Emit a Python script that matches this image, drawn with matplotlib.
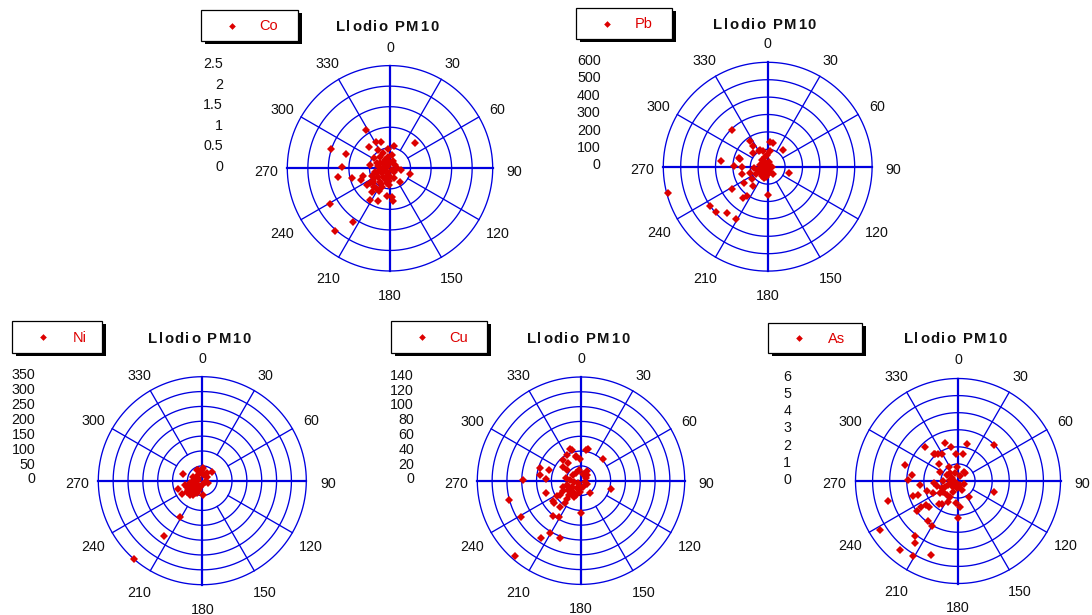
import numpy as np
import matplotlib
matplotlib.use("Agg")
import matplotlib.pyplot as plt
from matplotlib.transforms import offset_copy
from matplotlib.patches import Rectangle
from matplotlib.lines import Line2D
from matplotlib.font_manager import FontProperties, findfont
from matplotlib.ft2font import FT2Font

W, H, DPI = 1092, 615, 100
FONT = "Liberation Sans"
plt.rcParams["font.family"] = [FONT, "DejaVu Sans"]

BLUE = "#0000E0"
RED = "#DD0000"
INK = "#111111"

SITE = "Llodio PM10"
ANGLE_TICKS = list(range(0, 360, 30))

# ---- wind direction (deg) and concentration for each element ----
co_dir = [288, 288, 272, 261, 256, 239, 215, 221, 328, 316, 333, 342, 327, 353, 10, 45,
          106, 143, 174, 187, 177, 200, 212, 248, 253, 279, 302, 233, 222, 218, 214, 204,
          234, 260, 270, 225, 135, 239, 249, 329, 352, 7, 319, 336, 291, 257, 234, 219,
          194, 130, 90, 193, 183, 217, 246, 235, 304, 0, 295, 200, 240, 210, 180, 60,
          20, 315, 280, 250, 160, 100, 230, 265, 205, 185, 300, 345]
co_val = [1.50, 1.13, 1.18, 1.29, 0.95, 1.69, 1.59, 2.03, 1.11, 0.73, 0.73, 0.67, 0.53, 0.47, 0.54, 0.86,
          0.51, 0.41, 0.80, 0.68, 0.70, 0.84, 0.91, 0.75, 0.68, 0.50, 0.46, 0.61, 0.60, 0.72, 0.59, 0.49,
          0.70, 0.25, 0.16, 0.12, 0.06, 0.24, 0.35, 0.24, 0.29, 0.33, 0.37, 0.40, 0.35, 0.37, 0.35, 0.26,
          0.17, 0.13, 0.16, 0.37, 0.41, 0.41, 0.49, 0.52, 0.15, 0.12, 0.08, 0.30, 0.45, 0.45, 0.20, 0.15,
          0.20, 0.20, 0.30, 0.15, 0.25, 0.28, 0.55, 0.20, 0.62, 0.30, 0.28, 0.18]

pb_dir = [255, 236, 229, 221, 211, 238, 219, 216, 236, 218, 233, 255, 249, 277, 271, 270,
          287, 316, 325, 324, 313, 332, 343, 8, 12, 43, 107, 147, 180, 266, 345, 355,
          318, 282, 250, 222, 207, 187, 155, 90, 18, 238, 308, 237, 169, 194, 200, 260,
          300, 330, 10, 120, 230, 215, 280, 200, 240, 190, 336, 5, 286, 210, 225, 245]
pb_val = [595, 403, 396, 355, 350, 244, 229, 205, 163, 139, 115, 151, 109, 272, 192, 150,
          171, 293, 179, 147, 113, 104, 96, 91, 137, 131, 130, 53, 163, 77, 59, 67,
          52, 45, 57, 52, 54, 48, 32, 23, 30, 18, 31, 53, 20, 40, 30, 35,
          25, 40, 15, 15, 30, 40, 20, 70, 80, 60, 104, 142, 164, 65, 45, 35]

ni_dir = [221, 215, 212, 289, 46, 179, 252, 238, 114, 332, 5, 345, 294, 258, 249, 229,
          210, 216, 201, 110, 47, 279, 236, 236, 256, 355, 325, 31, 265, 235, 214, 200,
          225, 240, 190, 270, 300, 20, 0, 340, 230, 250, 220, 205]
ni_val = [349, 227, 143, 70, 44, 48, 85, 82, 22, 41, 42, 31, 33, 42, 56, 48,
          49, 32, 22, 10, 20, 14, 36, 57, 60, 25, 23, 29, 36, 64, 58, 35,
          25, 20, 15, 25, 15, 20, 35, 38, 40, 30, 62, 45]

cu_dir = [221, 255, 239, 271, 215, 211, 200, 218, 211, 251, 287, 278, 289, 272, 343, 331,
          319, 308, 324, 307, 348, 357, 10, 13, 45, 106, 143, 180, 204, 219, 215, 219,
          234, 230, 237, 236, 329, 18, 306, 273, 253, 237, 209, 185, 159, 104, 234, 251,
          215, 45, 225, 200, 260, 240, 220, 190, 280, 350, 30, 60, 120, 230, 341, 349]
cu_val = [135, 100, 94, 78, 95, 82, 82, 61, 57, 50, 58, 56, 45, 47, 43, 40,
          37, 30, 29, 24, 33, 30, 42, 44, 42, 42, 20, 43, 24, 31, 37, 45,
          46, 47, 39, 34, 12, 10, 13, 15, 20, 15, 12, 15, 9, 6, 21, 25,
          18, 11, 5, 20, 10, 28, 25, 8, 20, 15, 15, 8, 10, 15, 45, 34]

as_dir = [238, 254, 220, 211, 200, 215, 218, 217, 210, 234, 235, 233, 228, 251, 251, 252,
          264, 245, 219, 215, 205, 186, 176, 180, 145, 158, 107, 45, 13, 11, 355, 341,
          348, 316, 318, 324, 330, 287, 277, 271, 312, 296, 329, 355, 35, 298, 314, 266,
          257, 246, 246, 248, 245, 219, 234, 219, 236, 190, 153, 204, 207, 270, 280, 230,
          260, 300, 340, 20, 120, 200, 39, 319]
as_val = [5.37, 4.28, 5.24, 5.12, 4.58, 4.41, 4.08, 2.92, 3.05, 2.96, 2.66, 2.34, 2.25, 2.78, 2.45, 1.93,
          2.24, 1.60, 1.76, 1.67, 1.34, 1.32, 1.51, 2.19, 1.12, 0.57, 2.23, 3.00, 2.23, 1.59, 1.59, 2.34,
          2.02, 2.76, 2.14, 1.96, 1.82, 3.26, 2.74, 2.95, 1.47, 1.17, 0.98, 0.84, 0.62, 0.75, 0.65, 1.41,
          1.28, 1.05, 0.83, 0.61, 0.41, 0.43, 1.06, 1.06, 1.28, 0.44, 0.26, 0.68, 1.03, 0.90, 0.50, 0.30,
          0.20, 0.40, 0.50, 0.30, 0.40, 0.20, 0.63, 2.08]

# radial scales
co_ticks = [0, 0.5, 1, 1.5, 2, 2.5]
co_tick_labels = ["0", "0.5", "1", "1.5", "2", "2.5"]
pb_ticks = [0, 100, 200, 300, 400, 500, 600]
pb_tick_labels = [str(v) for v in pb_ticks]
ni_ticks = [0, 50, 100, 150, 200, 250, 300, 350]
ni_tick_labels = [str(v) for v in ni_ticks]
cu_ticks = [0, 20, 40, 60, 80, 100, 120, 140]
cu_tick_labels = [str(v) for v in cu_ticks]
as_ticks = [0, 1, 2, 3, 4, 5, 6]
as_tick_labels = [str(v) for v in as_ticks]

fig = plt.figure(figsize=(W / DPI, H / DPI), dpi=DPI)
fig.patch.set_facecolor("white")


def fx(x):
    return x / W


def fy(y):
    return 1 - y / H


def tracked_text(ax, s, dx, dy, size, track_px):
    """Bold text with extra letter spacing, centred at (dx, dy) px from the pole."""
    prop = FontProperties(family=FONT, weight="bold", size=size)
    font = FT2Font(findfont(prop))
    font.set_size(size, DPI)
    adv = [font.load_char(ord(c)).linearHoriAdvance / 65536 for c in s]
    total = sum(adv) + track_px * (len(s) - 1)
    x = dx - total / 2
    for c, a in zip(s, adv):
        if c != " ":
            tr = offset_copy(ax.transData, x=x, y=dy, units="dots")
            ax.text(0, 0, c, transform=tr, ha="left", va="baseline",
                    fontproperties=prop, color=INK, clip_on=False)
        x += a + track_px


def legend_box(name, left, top, w, h):
    fig.add_artist(Rectangle((fx(left + 4), fy(top + h + 3)), w / W, h / H,
                             transform=fig.transFigure, facecolor="black",
                             edgecolor="none", zorder=5))
    fig.add_artist(Rectangle((fx(left), fy(top + h)), w / W, h / H,
                             transform=fig.transFigure, facecolor="white",
                             edgecolor="black", linewidth=0.9, zorder=6))
    fig.add_artist(Line2D([fx(left + 31)], [fy(top + h / 2)], marker="D",
                          markersize=3.4, markeredgewidth=0, color=RED,
                          linestyle="none", transform=fig.transFigure, zorder=7))
    fig.text(fx(left + 68), fy(top + h / 2 + 5), name, color=RED, fontsize=10.5,
             ha="center", va="baseline", zorder=7)


def panel(name, dirs, vals, ticks, tick_labels, cx, cy, R, hub, box):
    ax = fig.add_axes([fx(cx - R), fy(cy + R), 2 * R / W, 2 * R / H],
                      projection="polar")
    ax.set_theta_zero_location("N")
    ax.set_theta_direction(-1)
    rmax = ticks[-1]
    ax.set_ylim(0, rmax)
    ax.set_axis_off()

    th = np.linspace(0, 2 * np.pi, 721)
    for t in ticks[1:]:
        ax.plot(th, np.full_like(th, t), color=BLUE, lw=0.95, clip_on=False, zorder=1)
    for a in ANGLE_TICKS:
        rad = np.radians(a)
        if a % 90:
            ax.plot([rad, rad], [ticks[hub], rmax], color=BLUE, lw=0.95,
                    clip_on=False, zorder=1)
        else:
            ax.plot([rad, rad], [0, rmax], color=BLUE, lw=1.6,
                    clip_on=False, zorder=1)

    ax.plot(np.radians(dirs), vals, linestyle="none", marker="D", markersize=3.9,
            markeredgewidth=0, color=RED, clip_on=False, zorder=3)

    # compass labels round the rim
    lab_tr = offset_copy(ax.transData, x=0, y=-7.5, units="dots")
    r_lab = rmax * (R + 21.5) / R
    for a in ANGLE_TICKS:
        ax.text(np.radians(a), r_lab, str(a), transform=lab_tr, ha="center",
                va="baseline", fontsize=10.3, color=INK, clip_on=False)

    # concentration scale, set out in a column to the left
    col_tr = offset_copy(ax.transData, x=-167, y=-2.7, units="dots")
    for t, lab in zip(ticks, tick_labels):
        ax.text(0, t, lab, transform=col_tr, ha="right", va="baseline",
                fontsize=10.3, color=INK, clip_on=False)

    tracked_text(ax, SITE, -3, 137.6, 10.7, 1.5)
    legend_box(name, *box)
    return ax


panel("Co", co_dir, co_val, co_ticks, co_tick_labels, 390.0, 168.3, 102.7, 1, (201, 10, 97, 31))
panel("Pb", pb_dir, pb_val, pb_ticks, pb_tick_labels, 767.7, 166.7, 104.4, 1, (576, 8, 96, 31))
panel("Ni", ni_dir, ni_val, ni_ticks, ni_tick_labels, 202.3, 480.7, 104.0, 2, (11.7, 320.7, 90, 32))
panel("Cu", cu_dir, cu_val, cu_ticks, cu_tick_labels, 581.0, 480.7, 103.7, 2, (390.5, 320.5, 96, 32))
panel("As", as_dir, as_val, as_ticks, as_tick_labels, 958.0, 481.0, 102.5, 1, (768.3, 322.7, 93.4, 30.6))

fig.savefig("out.png", dpi=DPI, facecolor="white")
